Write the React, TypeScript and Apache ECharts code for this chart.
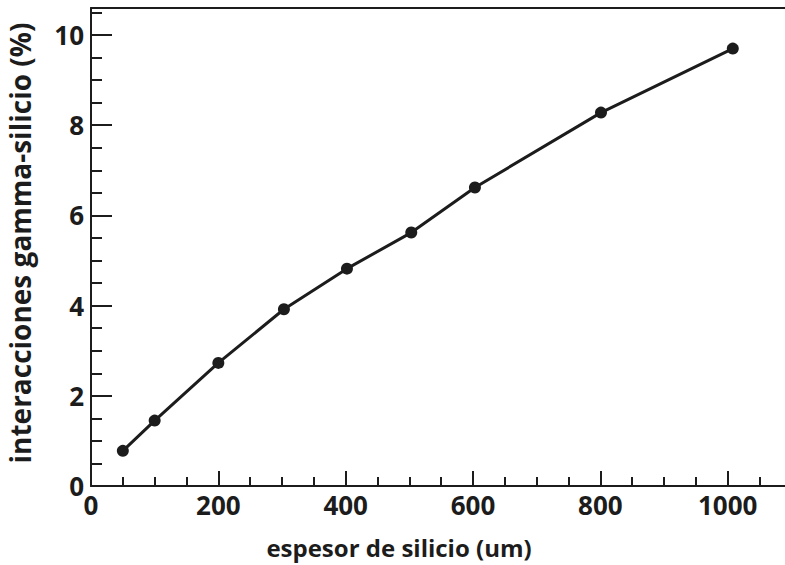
import React, { useEffect, useRef } from "react";
import * as echarts from "echarts";

const thickness = [50, 100, 200, 303, 402, 503, 603, 801, 1008];
const interactions = [0.78, 1.45, 2.73, 3.92, 4.82, 5.62, 6.62, 8.28, 9.7];
const xMajorTicks = [0, 200, 400, 600, 800, 1000];
const xMinorTicks = [50, 100, 150, 250, 300, 350, 450, 500, 550, 650, 700, 750, 850, 900, 950, 1050];
const yMajorTicks = [0, 2, 4, 6, 8, 10];
const yMinorTicks = [0.5, 1, 1.5, 2.5, 3, 3.5, 4.5, 5, 5.5, 6.5, 7, 7.5, 8.5, 9, 9.5, 10.5];
const xTitle = "espesor de silicio (um)";
const yTitle = "interacciones gamma-silicio (%)";

const FONT = "'Open Sans', 'DejaVu Sans', sans-serif";
const INK = "#1c1c1c";

export default function App() {
  const ref = useRef<HTMLDivElement>(null);
  useEffect(() => {
    if (!ref.current) return;
    const chart = echarts.init(ref.current, null, { renderer: "svg" });
    const X_MAX = 1090;
    const Y_MAX = 10.6;
    const lineStyle = { color: INK, width: 2 };
    chart.setOption({
      animation: false,
      backgroundColor: "#ffffff",
      grid: { left: 91, top: 8, right: 0, bottom: 79, containLabel: false },
      xAxis: [
        {
          type: "value",
          min: 0,
          max: X_MAX,
          position: "bottom",
          axisLine: { show: true, onZero: false, lineStyle },
          axisTick: { show: true, inside: true, length: 15, lineStyle, customValues: xMajorTicks },
          axisLabel: {
            show: true,
            customValues: xMajorTicks,
            formatter: (v: number) => String(v),
            margin: 6,
            color: INK,
            fontFamily: FONT,
            fontWeight: "bold",
            fontSize: 26,
          },
          splitLine: { show: false },
        },
        {
          type: "value",
          min: 0,
          max: X_MAX,
          position: "bottom",
          axisLine: { show: false, onZero: false },
          axisTick: { show: true, inside: true, length: 9, lineStyle, customValues: xMinorTicks },
          axisLabel: { show: false },
          splitLine: { show: false },
        },
        {
          type: "value",
          min: 0,
          max: X_MAX,
          position: "top",
          axisLine: { show: true, onZero: false, lineStyle },
          axisTick: { show: false },
          axisLabel: { show: false },
          splitLine: { show: false },
        },
      ],
      yAxis: [
        {
          type: "value",
          min: 0,
          max: Y_MAX,
          position: "left",
          axisLine: { show: true, onZero: false, lineStyle },
          axisTick: { show: true, inside: true, length: 21, lineStyle, customValues: yMajorTicks },
          axisLabel: {
            show: true,
            customValues: yMajorTicks,
            formatter: (v: number) => String(v),
            margin: 7,
            color: INK,
            fontFamily: FONT,
            fontWeight: "bold",
            fontSize: 26,
          },
          splitLine: { show: false },
        },
        {
          type: "value",
          min: 0,
          max: Y_MAX,
          position: "left",
          axisLine: { show: false, onZero: false },
          axisTick: { show: true, inside: true, length: 11, lineStyle, customValues: yMinorTicks },
          axisLabel: { show: false },
          splitLine: { show: false },
        },
      ],
      graphic: [
        {
          type: "text",
          x: 399,
          y: 547,
          style: {
            text: xTitle,
            fill: INK,
            font: `bold 24px ${FONT}`,
            align: "center",
            verticalAlign: "middle",
          },
        },
        {
          type: "text",
          x: 20,
          y: 243,
          rotation: Math.PI / 2,
          style: {
            text: yTitle,
            fill: INK,
            font: `bold 28px ${FONT}`,
            align: "center",
            verticalAlign: "middle",
          },
        },
      ],
      series: [
        {
          type: "line",
          xAxisIndex: 0,
          yAxisIndex: 0,
          data: thickness.map((x, i) => [x, interactions[i]]),
          symbol: "circle",
          symbolSize: 12,
          itemStyle: { color: INK },
          lineStyle: { color: INK, width: 3 },
          clip: false,
        },
      ],
    });
    return () => chart.dispose();
  }, []);
  return (
    <div
      ref={ref}
      style={{ position: "fixed", left: 0, top: 0, width: 785, height: 565 }}
    />
  );
}
